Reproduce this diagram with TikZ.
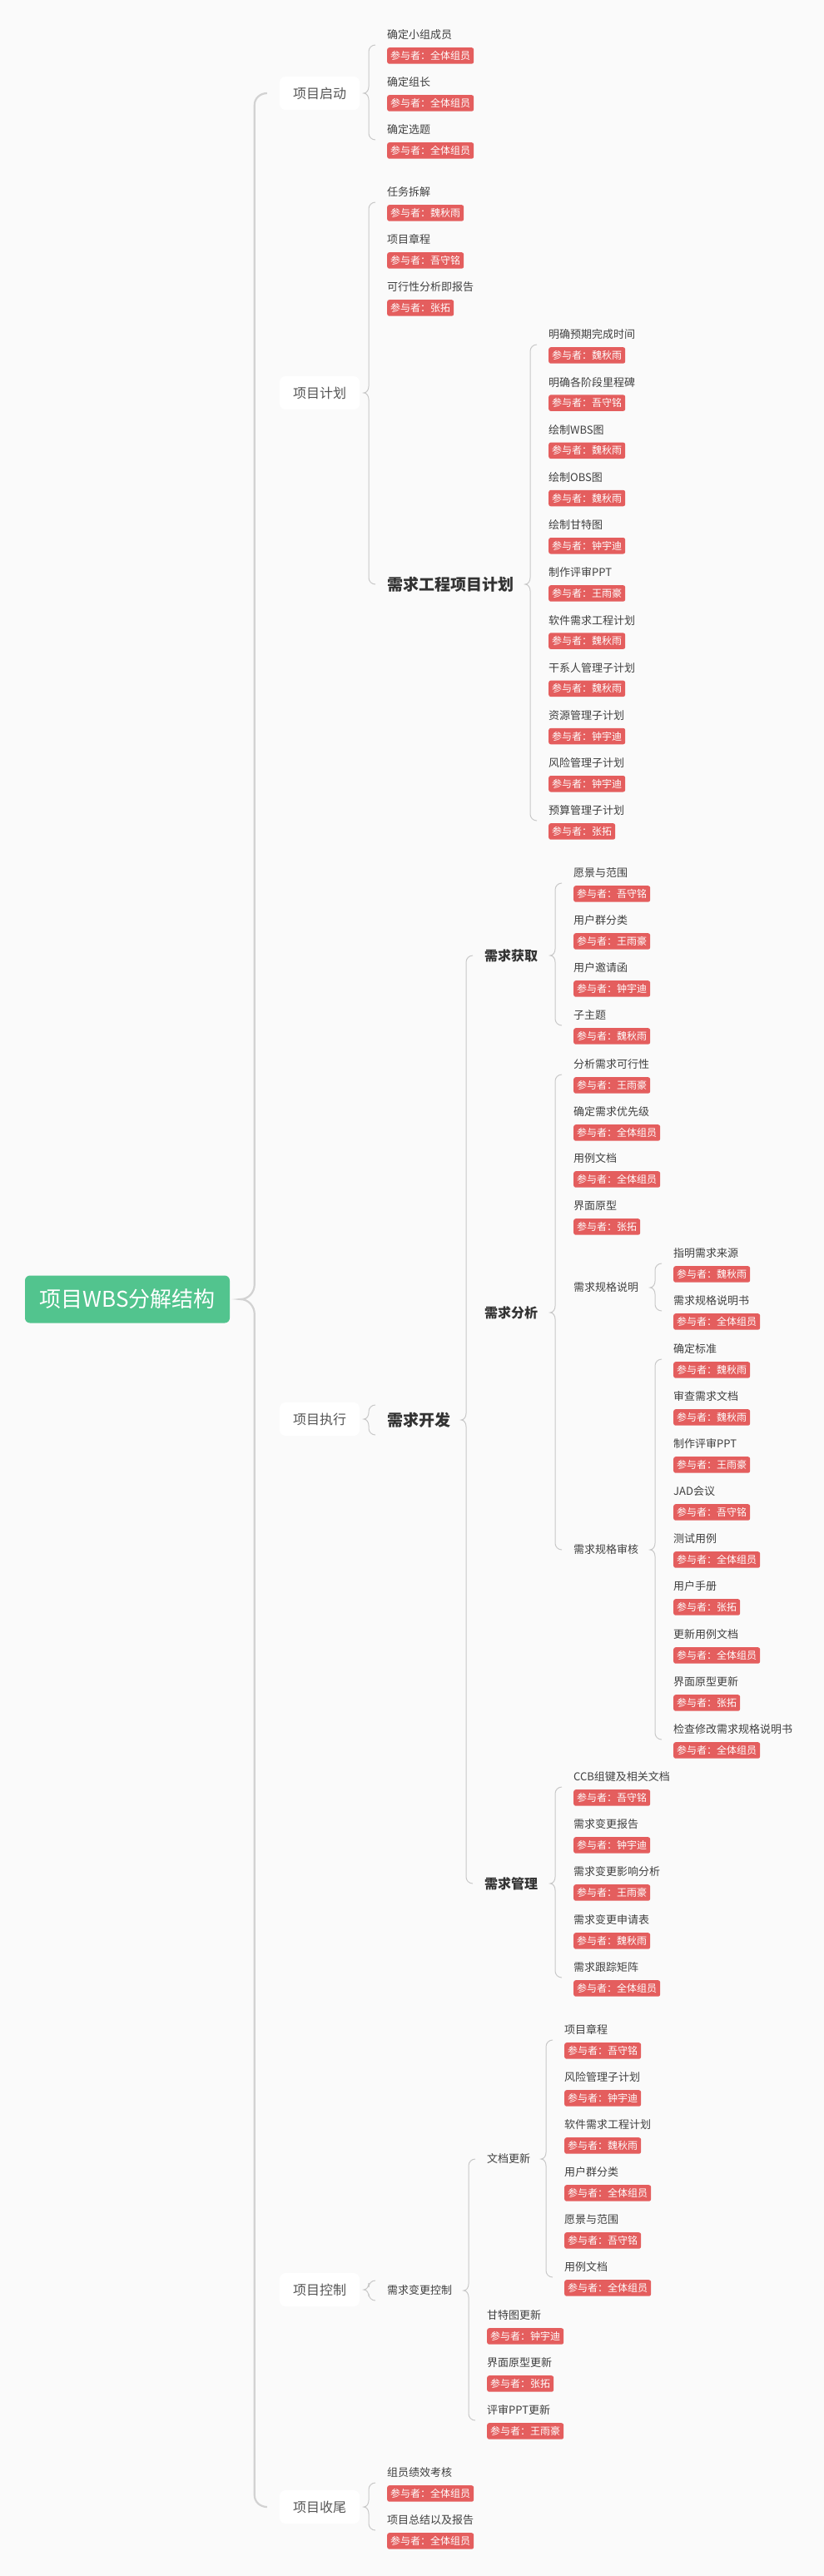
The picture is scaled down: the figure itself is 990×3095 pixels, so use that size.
\documentclass[tikz,border=0pt]{standalone}
\usepackage{fontspec}
\setmainfont{Noto Sans CJK SC}
\usetikzlibrary{calc}
\definecolor{bg}{HTML}{FAFAFA}
\definecolor{tagred}{HTML}{E45E5E}
\definecolor{rootgreen}{HTML}{52C48E}
\definecolor{linegray}{HTML}{C8C8C8}
\definecolor{rootline}{HTML}{D2D2D2}
\definecolor{txt}{HTML}{404040}
\definecolor{txtone}{HTML}{555555}
\definecolor{txtbold}{HTML}{333333}
\tikzset{
  lbl/.style={anchor=west, inner sep=0pt, font=\fontsize{13}{13}\selectfont, text=txt, text height=10.8pt, text depth=0.9pt},
  tagbox/.style={anchor=north west, fill=tagred, rounded corners=2.5pt, text=white, inner xsep=4pt, inner ysep=0pt, minimum height=19.5pt, font=\fontsize{12}{12}\selectfont, text height=10pt, text depth=0.8pt},
  lvone/.style={fill=white, rounded corners=7pt, minimum width=96pt, minimum height=40pt, inner sep=0pt, font=\fontsize{16}{16}\selectfont, text=txtone, text height=13.3pt, text depth=1.1pt},
  bigbold/.style={anchor=west, inner sep=0pt, font=\fontsize{19}{19}\selectfont\bfseries, text=txtbold, text height=15.8pt, text depth=1.3pt},
  midbold/.style={anchor=west, inner sep=0pt, font=\fontsize{16}{16}\selectfont\bfseries, text=txtbold, text height=13.3pt, text depth=1.1pt},
  rootbox/.style={fill=rootgreen, rounded corners=6pt, minimum width=246pt, minimum height=57pt, inner sep=0pt, text=white, font=\fontsize{26}{26}\selectfont, text height=21.6pt, text depth=1.8pt},
  brc/.style={draw=linegray, line width=1pt},
  rootbrc/.style={draw=rootline, line width=2.2pt}
}
\newcommand\wbsleaf[5]{%
  \node[lbl] (#1) at (#2,#3) {#4};
  \node[tagbox] (#1t) at ([yshift=-15pt]#1.west) {参与者：#5};
  \coordinate (#1c) at ([yshift=-12pt]#1.west);
}
\newcommand\wbsbrace[3]{%
  \draw[brc] let \p1=(#1.east), \p2=(#2), \p3=(#3) in
    ({\x2-14pt},\y2) to[out=180,in=90] ({\x2-22pt},{\y2-8pt}) -- ({\x2-22pt},{\y1+8pt})
    to[out=-90,in=0] ({\x2-28pt},\y1) to[out=0,in=90] ({\x2-22pt},{\y1-8pt})
    -- ({\x2-22pt},{\y3+8pt}) to[out=-90,in=180] ({\x2-14pt},\y3);
}
\begin{document}
\begin{tikzpicture}[x=1pt,y=-1pt]
\fill[bg] (0,0) rectangle (990,3095);
\useasboundingbox (0,0) rectangle (990,3095);

\node[rootbox] (root) at (153,1561) {项目WBS分解结构};

\node[lvone] (qd) at (384,112) {项目启动};
\node[lvone] (jh) at (384,472) {项目计划};
\node[lvone] (zx) at (384,1705) {项目执行};
\node[lvone] (kz) at (384,2751) {项目控制};
\node[lvone] (sw) at (384,3012) {项目收尾};

\draw[rootbrc] let \p1=(root.east), \p2=(qd.west), \p3=(sw.west) in
  ({\x2-15pt},\y2) to[out=180,in=90] ({\x2-30pt},{\y2-14pt}) -- ({\x2-30pt},{\y1+18pt})
  to[out=-90,in=0] ({\x2-47pt},\y1) to[out=0,in=90] ({\x2-30pt},{\y1-18pt})
  -- ({\x2-30pt},{\y3+14pt}) to[out=-90,in=180] ({\x2-15pt},\y3);

% 项目启动
\wbsleaf{a1}{465}{42}{确定小组成员}{全体组员}
\wbsleaf{a2}{465}{99}{确定组长}{全体组员}
\wbsleaf{a3}{465}{156}{确定选题}{全体组员}
\wbsbrace{qd}{a1c}{a3c}

% 项目计划
\wbsleaf{b1}{465}{231}{任务拆解}{魏秋雨}
\wbsleaf{b2}{465}{288}{项目章程}{吾守铭}
\wbsleaf{b3}{465}{345}{可行性分析即报告}{张拓}
\node[bigbold] (b4) at (465,702) {需求工程项目计划};
\wbsbrace{jh}{b1c}{b4.west}

\wbsleaf{c1}{659}{402}{明确预期完成时间}{魏秋雨}
\wbsleaf{c2}{659}{459.2}{明确各阶段里程碑}{吾守铭}
\wbsleaf{c3}{659}{516.4}{绘制WBS图}{魏秋雨}
\wbsleaf{c4}{659}{573.6}{绘制OBS图}{魏秋雨}
\wbsleaf{c5}{659}{630.8}{绘制甘特图}{钟宇迪}
\wbsleaf{c6}{659}{688}{制作评审PPT}{王雨豪}
\wbsleaf{c7}{659}{745.2}{软件需求工程计划}{魏秋雨}
\wbsleaf{c8}{659}{802.4}{干系人管理子计划}{魏秋雨}
\wbsleaf{c9}{659}{859.6}{资源管理子计划}{钟宇迪}
\wbsleaf{c10}{659}{916.8}{风险管理子计划}{钟宇迪}
\wbsleaf{c11}{659}{974}{预算管理子计划}{张拓}
\wbsbrace{b4}{c1c}{c11c}

% 项目执行
\node[bigbold] (d1) at (465,1706) {需求开发};
\coordinate (d1u) at ([yshift=18pt]d1.west);
\coordinate (d1d) at ([yshift=-18pt]d1.west);
\wbsbrace{zx}{d1u}{d1d}

\node[midbold] (e1) at (582,1148) {需求获取};
\node[midbold] (e2) at (582,1577) {需求分析};
\node[midbold] (e3) at (582,2263) {需求管理};
\wbsbrace{d1}{e1.west}{e3.west}

\wbsleaf{f1}{689}{1049}{愿景与范围}{吾守铭}
\wbsleaf{f2}{689}{1106}{用户群分类}{王雨豪}
\wbsleaf{f3}{689}{1163}{用户邀请函}{钟宇迪}
\wbsleaf{f4}{689}{1220}{子主题}{魏秋雨}
\wbsbrace{e1}{f1c}{f4c}

\wbsleaf{g1}{689}{1279}{分析需求可行性}{王雨豪}
\wbsleaf{g2}{689}{1336}{确定需求优先级}{全体组员}
\wbsleaf{g3}{689}{1392}{用例文档}{全体组员}
\wbsleaf{g4}{689}{1449}{界面原型}{张拓}
\node[lbl] (g5) at (689,1547) {需求规格说明};
\node[lbl] (g6) at (689,1862) {需求规格审核};
\wbsbrace{e2}{g1c}{g6.west}

\wbsleaf{h1}{809}{1506}{指明需求来源}{魏秋雨}
\wbsleaf{h2}{809}{1563}{需求规格说明书}{全体组员}
\wbsbrace{g5}{h1c}{h2c}

\wbsleaf{i1}{809}{1621}{确定标准}{魏秋雨}
\wbsleaf{i2}{809}{1678}{审查需求文档}{魏秋雨}
\wbsleaf{i3}{809}{1735}{制作评审PPT}{王雨豪}
\wbsleaf{i4}{809}{1792}{JAD会议}{吾守铭}
\wbsleaf{i5}{809}{1849}{测试用例}{全体组员}
\wbsleaf{i6}{809}{1906}{用户手册}{张拓}
\wbsleaf{i7}{809}{1964}{更新用例文档}{全体组员}
\wbsleaf{i8}{809}{2021}{界面原型更新}{张拓}
\wbsleaf{i9}{809}{2078}{检查修改需求规格说明书}{全体组员}
\wbsbrace{g6}{i1c}{i9c}

\wbsleaf{j1}{689}{2135}{CCB组键及相关文档}{吾守铭}
\wbsleaf{j2}{689}{2192}{需求变更报告}{钟宇迪}
\wbsleaf{j3}{689}{2249}{需求变更影响分析}{王雨豪}
\wbsleaf{j4}{689}{2307}{需求变更申请表}{魏秋雨}
\wbsleaf{j5}{689}{2364}{需求跟踪矩阵}{全体组员}
\wbsbrace{e3}{j1c}{j5c}

% 项目控制
\node[lbl] (k1) at (465,2752) {需求变更控制};
\coordinate (k1u) at ([yshift=12pt]k1.west);
\coordinate (k1d) at ([yshift=-12pt]k1.west);
\wbsbrace{kz}{k1u}{k1d}

\node[lbl] (l1) at (585,2594) {文档更新};
\wbsleaf{l2}{585}{2782}{甘特图更新}{钟宇迪}
\wbsleaf{l3}{585}{2839}{界面原型更新}{张拓}
\wbsleaf{l4}{585}{2896}{评审PPT更新}{王雨豪}
\wbsbrace{k1}{l1.west}{l4c}

\wbsleaf{m1}{678}{2439}{项目章程}{吾守铭}
\wbsleaf{m2}{678}{2496}{风险管理子计划}{钟宇迪}
\wbsleaf{m3}{678}{2553}{软件需求工程计划}{魏秋雨}
\wbsleaf{m4}{678}{2610}{用户群分类}{全体组员}
\wbsleaf{m5}{678}{2667}{愿景与范围}{吾守铭}
\wbsleaf{m6}{678}{2724}{用例文档}{全体组员}
\wbsbrace{l1}{m1c}{m6c}

% 项目收尾
\wbsleaf{n1}{465}{2971}{组员绩效考核}{全体组员}
\wbsleaf{n2}{465}{3028}{项目总结以及报告}{全体组员}
\wbsbrace{sw}{n1c}{n2c}
\end{tikzpicture}
\end{document}
